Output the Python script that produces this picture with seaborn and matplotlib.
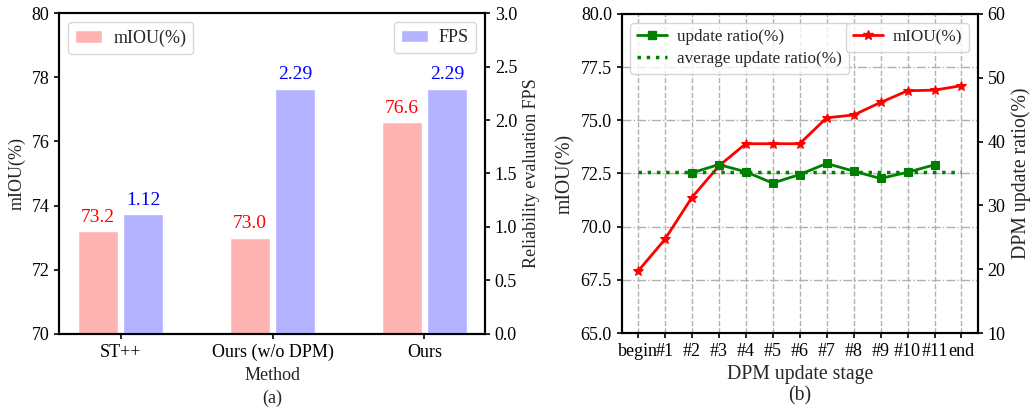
import numpy as np
import pandas as pd
import matplotlib
matplotlib.use("Agg")
import matplotlib.pyplot as plt
import matplotlib.patches as mpatches
from matplotlib.lines import Line2D
import seaborn as sns

# ---------------- data ----------------
methods = ["ST++", "Ours (w/o DPM)", "Ours"]
miou_a = [73.2, 73.0, 76.6]
fps_a = [1.12, 2.29, 2.29]

stages = ["begin", "#1", "#2", "#3", "#4", "#5", "#6", "#7", "#8", "#9", "#10", "#11", "end"]
miou_b = [67.9, 69.4, 71.37, 72.85, 73.9, 73.9, 73.9, 75.12, 75.25, 75.84, 76.39, 76.42, 76.63]
update_ratio = [np.nan, np.nan, 35.1, 36.4, 35.26, 33.5, 34.84, 36.57, 35.37, 34.22, 35.2, 36.36, np.nan]
avg_update_ratio = 35.2

# ---------------- style ----------------
sns.set_style("ticks")
plt.rcParams["font.family"] = ["Liberation Serif", "DejaVu Serif"]
plt.rcParams["mathtext.fontset"] = "stix"
FS = 13
plt.rcParams.update({"font.size": FS, "axes.labelsize": FS, "xtick.labelsize": FS,
                     "ytick.labelsize": FS, "legend.fontsize": FS,
                     "axes.edgecolor": "black", "axes.linewidth": 1.5,
                     "xtick.color": "black", "ytick.color": "black",
                     "xtick.major.width": 1.2, "ytick.major.width": 1.2})

fig = plt.figure(figsize=(10.30, 4.09), dpi=100)
axA = fig.add_axes([0.0573, 0.1834, 0.4137, 0.7848])
axB = fig.add_axes([0.6036, 0.1858, 0.3456, 0.7800])

# ---------------- panel (a) ----------------
pink = (1.0, 0.7, 0.7)
lblue = (0.7, 0.7, 1.0)
dfa_m = pd.DataFrame({"Method": methods, "val": miou_a, "kind": "mIOU(%)"})
dfa_f = pd.DataFrame({"Method": methods, "val": fps_a, "kind": "FPS"})
hue_order = ["mIOU(%)", "FPS"]
pal = {"mIOU(%)": pink, "FPS": lblue}

sns.barplot(data=dfa_m, x="Method", y="val", hue="kind", hue_order=hue_order,
            palette=pal, width=0.6, gap=0.12, dodge=True, ax=axA, legend=False,
            edgecolor="white", linewidth=1, saturation=1)
axA.set_ylim(70, 80)
axA.set_yticks(np.arange(70, 81, 2))
axA.set_xlim(-0.406, 2.4)
axA.set_ylabel("mIOU(%)")
axA.set_xlabel("Method\n(a)", linespacing=1.45)

axA2 = axA.twinx()
sns.barplot(data=dfa_f, x="Method", y="val", hue="kind", hue_order=hue_order,
            palette=pal, width=0.6, gap=0.12, dodge=True, ax=axA2, legend=False,
            edgecolor="white", linewidth=1, saturation=1)
axA2.set_ylim(0, 3.0)
axA2.set_yticks(np.arange(0, 3.01, 0.5))
axA2.set_ylabel("Reliability evaluation FPS")
axA2.set_xlim(-0.406, 2.4)


def valid(c):
    return len(c.patches) > 0 and all(p is not None for p in c.patches)


for c in axA.containers:
    if valid(c):
        axA.bar_label(c, labels=[f"{v:.1f}" for v in miou_a], color="red", padding=4, fontsize=14)
for c in axA2.containers:
    if valid(c):
        axA2.bar_label(c, labels=[f"{v:.2f}" for v in fps_a], color="blue", padding=4, fontsize=14)

axA.legend(handles=[mpatches.Patch(facecolor=pink, label="mIOU(%)")], loc="upper left",
           handlelength=1.5, handletextpad=0.6)
axA2.legend(handles=[mpatches.Patch(facecolor=lblue, label="FPS")], loc="upper right",
            handlelength=1.5, handletextpad=0.6)

# ---------------- panel (b) ----------------
xpos = np.arange(len(stages))
sns.lineplot(x=xpos, y=miou_b, ax=axB, color="red", marker="*", markersize=7,
             linewidth=2, markeredgecolor="red", legend=False)
axB.set_ylim(65, 80)
axB.set_yticks(np.arange(65, 80.1, 2.5))
axB.yaxis.set_major_formatter(matplotlib.ticker.FormatStrFormatter("%.1f"))
axB.set_xticks(xpos)
axB.set_xticklabels(stages)
axB.set_xlim(-0.6, len(stages) - 1 + 0.6)
axB.set_ylabel("mIOU(%)", fontsize=14.2)
axB.set_xlabel("DPM update stage\n(b)", linespacing=1.15, fontsize=14.2)
axB.xaxis.grid(True, linestyle="--", color="#b0b0b0", linewidth=1)
axB.yaxis.grid(True, linestyle="-.", color="#b0b0b0", linewidth=1)
axB.set_axisbelow(True)

axB2 = axB.twinx()
sns.lineplot(x=xpos, y=update_ratio, ax=axB2, color="green", marker="s", markersize=6,
             linewidth=2, markeredgecolor="green", legend=False)
axB2.hlines(avg_update_ratio, xpos[0], xpos[-1], colors="green", linestyles=":", linewidth=2.5)
axB2.set_ylim(10, 60)
axB2.set_yticks(np.arange(10, 61, 10))
axB2.set_ylabel("DPM update ratio(%)", fontsize=14.2)
axB2.set_xlim(-0.6, len(stages) - 1 + 0.6)

LFS = 12.3
leg1 = axB2.legend(handles=[Line2D([], [], color="green", marker="s", markersize=6, linewidth=2,
                                   label="update ratio(%)"),
                            Line2D([], [], color="green", linestyle=":", linewidth=2.5,
                                   label="average update ratio(%)")],
                   loc="upper left", labelspacing=0.35, fontsize=LFS,
                   handlelength=1.75, handletextpad=0.6)
axB2.add_artist(leg1)
axB2.legend(handles=[Line2D([], [], color="red", marker="*", markersize=7, linewidth=2,
                            label="mIOU(%)")], loc="upper right", fontsize=LFS,
            handlelength=1.75, handletextpad=0.6)

fig.savefig("out.png", dpi=100)
